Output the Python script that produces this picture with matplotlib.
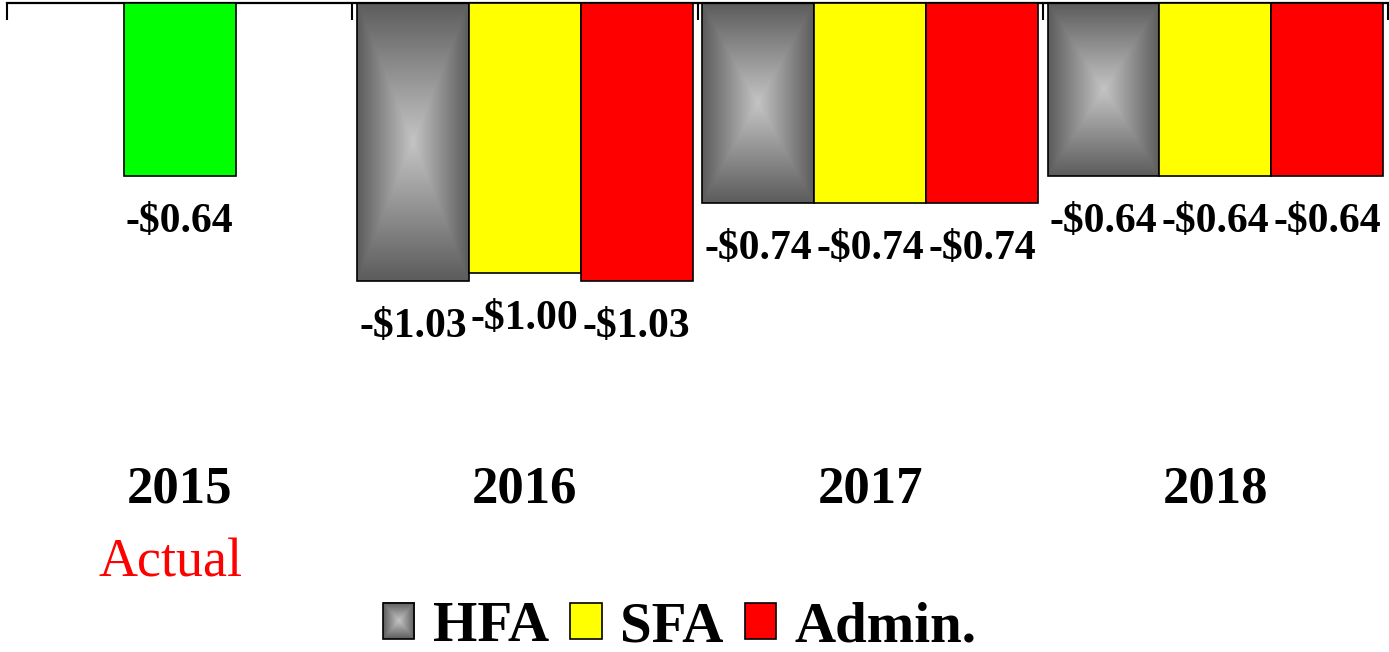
import numpy as np
import matplotlib
matplotlib.use("Agg")
import matplotlib.pyplot as plt
from matplotlib.colors import LinearSegmentedColormap
from matplotlib.patches import Patch, Rectangle
from matplotlib.legend_handler import HandlerBase
from matplotlib.image import BboxImage
from matplotlib.transforms import Bbox, TransformedBbox

# data
years = ["2015", "2016", "2017", "2018"]
actual_2015 = -0.64
hfa = [np.nan, -1.03, -0.74, -0.64]
sfa = [np.nan, -1.00, -0.74, -0.64]
admin = [np.nan, -1.03, -0.74, -0.64]
series_names = ["HFA", "SFA", "Admin."]

plt.rcParams["font.family"] = ["Liberation Serif", "DejaVu Serif"]

gray_cmap = LinearSegmentedColormap.from_list("g", ["#c4c4c4", "#5c5c5c"])

# rectangular "from centre" gradient used for the HFA fill
n = 200
u, v = np.meshgrid(np.linspace(-1, 1, n), np.linspace(-1, 1, n))
grad = np.maximum(np.abs(u), np.abs(v))


class GradientHandler(HandlerBase):
    def create_artists(self, legend, orig_handle, xdescent, ydescent,
                       width, height, fontsize, trans):
        x0, y0 = -xdescent, -ydescent
        bb = TransformedBbox(Bbox.from_bounds(x0, y0, width, height), trans)
        img = BboxImage(bb, cmap=gray_cmap, interpolation="bilinear")
        img.set_data(grad)
        img.set_clim(0, 1)
        rect = Rectangle((x0, y0), width, height, facecolor="none",
                         edgecolor="black", linewidth=1.2, transform=trans)
        return [img, rect]


fig = plt.figure(figsize=(13.89, 6.52), dpi=100)
W, H = 1389, 652
top_px, bot_px = 3, 453
ax = fig.add_axes([7 / W, 1 - bot_px / H, 1381 / W, (bot_px - top_px) / H])

x = np.arange(len(years))
bw = 0.324
offsets = [-bw, 0, bw]
colors = [None, "#ffff00", "#ff0000"]

# 2015 actual (green)
ax.bar(x[0], actual_2015, bw, color="#00ff00", edgecolor="black", linewidth=1.2, zorder=3)

for vals, off, col in zip([hfa, sfa, admin], offsets, colors):
    xs = x + off
    if col is None:
        for xi, vi in zip(xs, vals):
            if np.isnan(vi):
                continue
            ax.imshow(grad, cmap=gray_cmap, vmin=0, vmax=1, aspect="auto",
                      extent=[xi - bw / 2, xi + bw / 2, vi, 0], zorder=2,
                      interpolation="bilinear")
        ax.bar(xs, vals, bw, facecolor="none", edgecolor="black", linewidth=1.2, zorder=3)
    else:
        ax.bar(xs, vals, bw, color=col, edgecolor="black", linewidth=1.2, zorder=3)

# value labels
lab_kw = dict(textcoords="offset points", ha="center", va="center",
              fontsize=30, fontweight="bold")
ax.annotate(f"-${abs(actual_2015):.2f}", (x[0], actual_2015), xytext=(0, -33), **lab_kw)
for vals, off in zip([hfa, sfa, admin], offsets):
    for xi, vi in zip(x + off, vals):
        if np.isnan(vi):
            continue
        ax.annotate(f"-${abs(vi):.2f}", (xi, vi), xytext=(0, -33), **lab_kw)

ymin = -(bot_px - top_px) / 270
ax.set_ylim(ymin, 0)
ax.set_xlim(-0.5, 3.5 - 1 / 345.5)

for s in ["left", "right", "bottom"]:
    ax.spines[s].set_visible(False)
ax.spines["top"].set_linewidth(1.6)
ax.set_yticks([])

# group boundary ticks on the top axis
ax.set_xticks(np.arange(-0.5, 4, 1))
ax.tick_params(axis="x", which="major", top=True, bottom=False, direction="in",
               length=12, width=1.5, labeltop=False, labelbottom=False)
# year labels below the plot
ax.set_xticks(x, minor=True)
ax.set_xticklabels(years, minor=True, fontsize=38, fontweight="bold")
ax.tick_params(axis="x", which="minor", length=0, pad=9, bottom=True, labelbottom=True)

ax.text(x[0] - 0.025, -0.245, "Actual", transform=ax.get_xaxis_transform(),
        ha="center", va="center", color="red", fontsize=39)

handles = [Patch(facecolor="gray", edgecolor="black"),
           Patch(facecolor="#ffff00", edgecolor="black", linewidth=1.2),
           Patch(facecolor="#ff0000", edgecolor="black", linewidth=1.2)]
fig.legend(handles, series_names, loc="center", bbox_to_anchor=(680 / W, 1 - 627 / H),
           ncol=3, frameon=False, handler_map={handles[0]: GradientHandler()},
           prop={"size": 41, "weight": "bold"}, handlelength=0.55, handleheight=0.6,
           handletextpad=0.33, columnspacing=0.37, borderpad=0, borderaxespad=0)

fig.savefig("out.png", dpi=100)
